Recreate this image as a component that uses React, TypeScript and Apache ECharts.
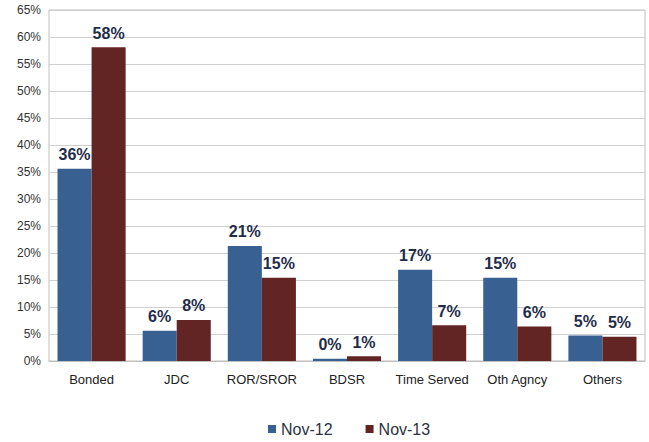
import React, { useEffect, useRef } from "react";
import * as echarts from "echarts";

const categories = ["Bonded", "JDC", "ROR/SROR", "BDSR", "Time Served", "Oth Agncy", "Others"];
const nov12 = [35.6, 5.6, 21.3, 0.4, 16.9, 15.4, 4.7];
const nov13 = [58.1, 7.6, 15.4, 0.9, 6.6, 6.4, 4.5];
const seriesNames = ["Nov-12", "Nov-13"];

export default function App() {
  const ref = useRef<HTMLDivElement>(null);
  useEffect(() => {
    const chart = echarts.init(ref.current!, null, { renderer: "svg" });
    const label = {
      show: true,
      position: "top",
      distance: 6,
      color: "#1F2D4A",
      fontWeight: "bold",
      fontSize: 16,
      fontFamily: "Liberation Sans, Arial, sans-serif",
      formatter: (p: any) => Math.round(p.value) + "%",
    };
    chart.setOption({
      animation: false,
      textStyle: { fontFamily: "Liberation Sans, Arial, sans-serif" },
      grid: {
        left: 49,
        right: 4,
        top: 10,
        bottom: 81,
        show: true,
        borderColor: "#BFBFBF",
        borderWidth: 1,
      },
      legend: {
        bottom: 0,
        left: 263,
        itemWidth: 8,
        itemHeight: 8,
        itemGap: 33,
        icon: "rect",
        textStyle: { fontSize: 16, color: "#2B3340" },
        data: seriesNames,
      },
      xAxis: {
        type: "category",
        data: categories,
        axisLine: { show: true, lineStyle: { color: "#BFBFBF" } },
        axisTick: { show: false },
        axisLabel: { color: "#222", fontSize: 13, margin: 12, interval: 0 },
      },
      yAxis: {
        type: "value",
        min: 0,
        max: 65,
        interval: 5,
        axisLine: { show: false },
        axisTick: { show: false },
        splitLine: { lineStyle: { color: "#D0D0D0" } },
        axisLabel: { color: "#333", fontSize: 12, margin: 8, formatter: "{value}%" },
      },
      series: [
        {
          name: seriesNames[0],
          type: "bar",
          data: nov12,
          barGap: "0%",
          barCategoryGap: "20%",
          itemStyle: { color: "#386192" },
          label,
        },
        {
          name: seriesNames[1],
          type: "bar",
          data: nov13,
          barGap: "0%",
          barCategoryGap: "20%",
          itemStyle: { color: "#632523" },
          label,
        },
      ],
    });
    return () => chart.dispose();
  }, []);
  return <div ref={ref} style={{ width: 649, height: 442, position: "absolute", left: 0, top: 0 }} />;
}
